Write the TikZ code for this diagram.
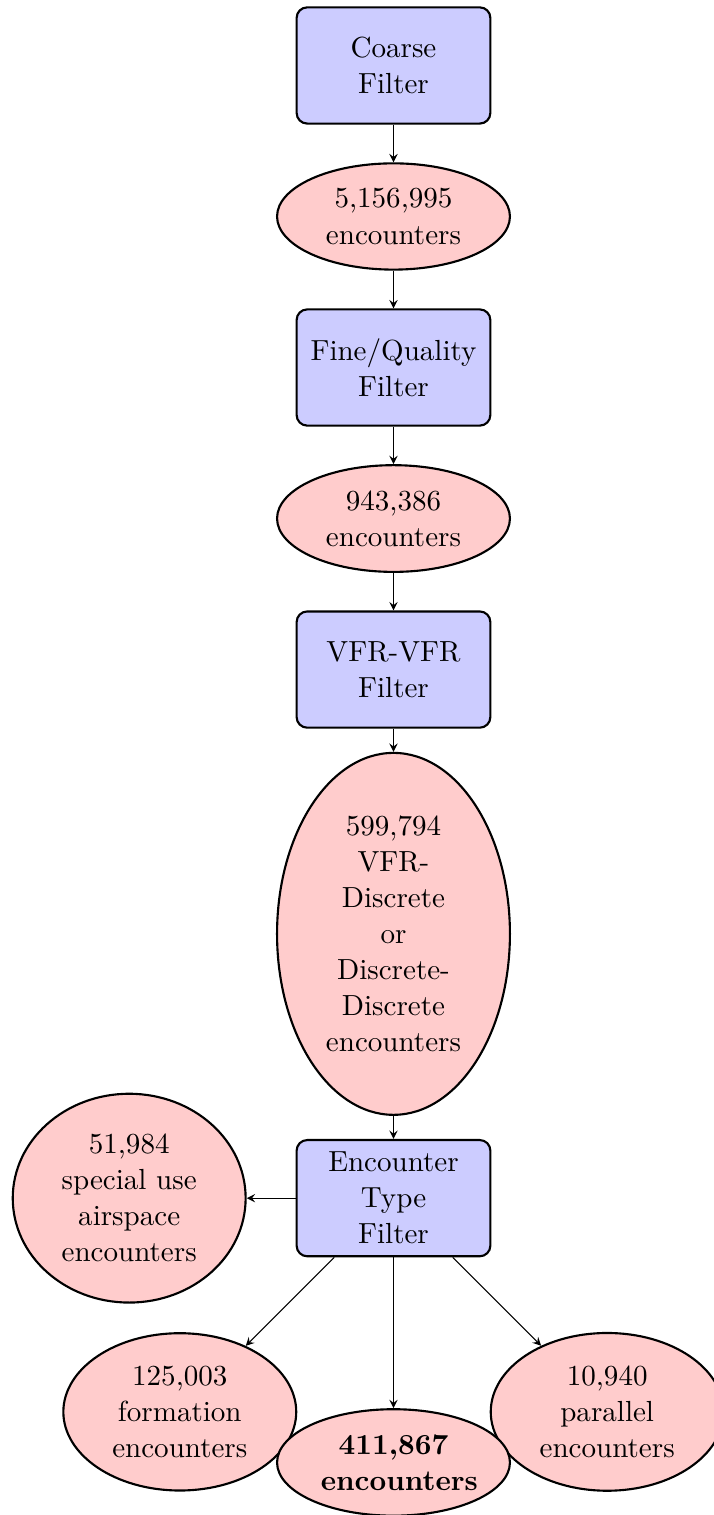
\documentclass[11pt,tikz,border=0pt]{standalone}
\usetikzlibrary{shapes.geometric}
\begin{document}
\begin{tikzpicture}[
filterbox/.style={rectangle, draw, thick, fill=blue!20, text width=6em, text centered, rounded corners, minimum height=4em},
countell/.style={ellipse, draw, thick, fill=red!20, text width=5em, text centered},
flow/.style={draw, -stealth}]
\useasboundingbox (-5.211,0.867) rectangle (4.244,-19.196);

\node[filterbox] (coarse) at (0,0) {Coarse\\Filter};
\node[countell] (coarsecnt) at (0,-2) {5,156,995\\encounters};
\node[filterbox] (fine) at (0,-4) {Fine/Quality\\Filter};
\node[countell] (finecnt) at (0,-6) {943,386\\encounters};
\node[filterbox] (vfr) at (0,-8) {VFR-VFR\\Filter};
\node[countell] (vfrcnt) at (0,-11.5) {599,794\\VFR-\\Discrete\\or\\Discrete-\\Discrete\\encounters};
\node[filterbox] (enctype) at (0,-15) {Encounter\\Type\\Filter};

\node[countell] (sua) at (-3.5,-15) {51,984\\special use\\airspace\\encounters};
\node[countell] (formation) at (-2.83,-17.83) {125,003\\formation\\encounters};
\node[countell] (parallel) at (2.83,-17.83) {10,940\\parallel\\encounters};
\node[countell] (final) at (0,-18.5) {\textbf{411,867\\\mbox{encounters}}};

\foreach \a/\b in {coarse/coarsecnt, coarsecnt/fine, fine/finecnt, finecnt/vfr, vfr/vfrcnt, vfrcnt/enctype}{
\draw[flow] (\a) -- (\b);}

\foreach \b in {sua, formation, final, parallel}{
\draw[flow] (enctype) -- (\b);}
\end{tikzpicture}
\end{document}
